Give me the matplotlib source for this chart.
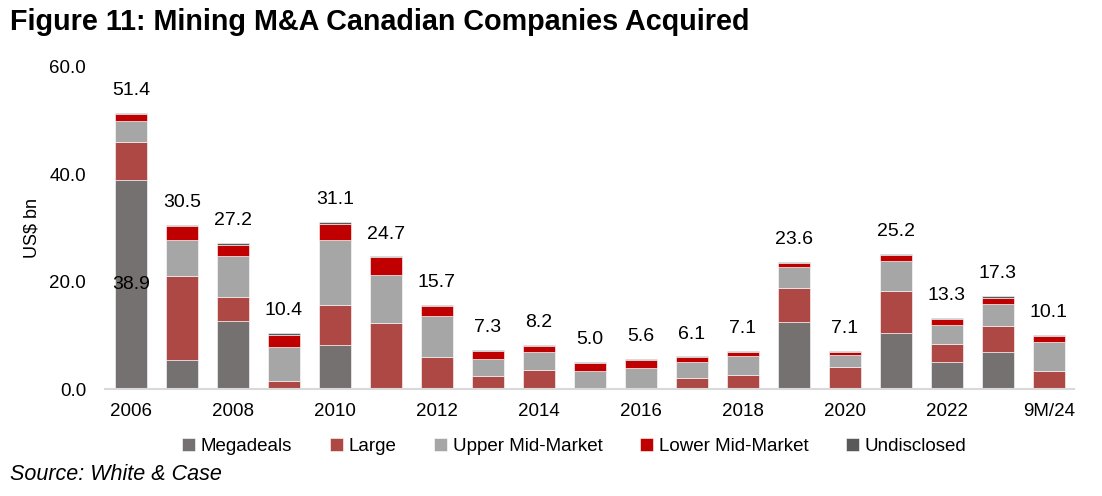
import matplotlib
matplotlib.use("Agg")
import matplotlib.pyplot as plt
import numpy as np

plt.rcParams["font.family"] = ["Liberation Sans", "DejaVu Sans"]

periods = ["2006", "2007", "2008", "2009", "2010", "2011", "2012", "2013", "2014", "2015",
           "2016", "2017", "2018", "2019", "2020", "2021", "2022", "2023", "9M/24"]
megadeals = [38.9, 5.4, 12.7, 0, 8.1, 0, 0, 0, 0, 0, 0, 0, 0, 12.5, 0, 10.4, 5.1, 6.9, 0]
large = [7.1, 15.6, 4.5, 1.5, 7.6, 12.2, 6.0, 2.5, 3.6, 0, 0, 2.1, 2.7, 6.3, 4.1, 7.9, 3.2, 4.9, 3.3]
upper_mid = [3.85, 6.7, 7.5, 6.3, 12.0, 9.1, 7.6, 3.15, 3.3, 3.3, 3.9, 3.0, 3.5, 3.9, 2.2, 5.6, 3.6, 4.1, 5.5]
lower_mid = [1.3, 2.7, 2.1, 2.3, 3.0, 3.2, 1.8, 1.45, 1.1, 1.5, 1.5, 0.8, 0.7, 0.7, 0.6, 1.1, 1.2, 1.1, 1.0]
undisclosed = [0.25, 0.1, 0.4, 0.3, 0.4, 0.2, 0.3, 0.2, 0.2, 0.2, 0.2, 0.2, 0.2, 0.2, 0.2, 0.2, 0.2, 0.3, 0.3]
totals = [51.4, 30.5, 27.2, 10.4, 31.1, 24.7, 15.7, 7.3, 8.2, 5.0,
          5.6, 6.1, 7.1, 23.6, 7.1, 25.2, 13.3, 17.3, 10.1]

series = [
    ("Megadeals", megadeals, "#767171"),
    ("Large", large, "#ad4845"),
    ("Upper Mid-Market", upper_mid, "#a6a6a6"),
    ("Lower Mid-Market", lower_mid, "#c00000"),
    ("Undisclosed", undisclosed, "#595959"),
]

fig = plt.figure(figsize=(11.02, 4.96), dpi=100)
ax = fig.add_axes([0.0957, 0.2157, 0.8793, 0.650])

x = np.arange(len(periods))
bottom = np.zeros(len(periods))
for name, values, color in series:
    vals = np.array(values, dtype=float)
    ax.bar(x, vals, bottom=bottom, width=0.63, color=color, label=name,
           edgecolor="white", linewidth=0.4)
    bottom += vals

for xi, top, total in zip(x, bottom, totals):
    ax.annotate(f"{total:.1f}", (xi, top), xytext=(0, 16), textcoords="offset points",
                ha="center", va="center", fontsize=14)

# label inside the 2006 megadeals segment
ax.text(0, megadeals[0] / 2, f"{megadeals[0]:.1f}", ha="center", va="center", fontsize=14)

ax.set_xlim(-0.5, len(periods) - 0.5)
ax.set_ylim(0, 60)
ax.set_yticks([0, 20, 40, 60])
ax.set_yticklabels(["0.0", "20.0", "40.0", "60.0"])
ax.set_xticks(x[::2])
ax.set_xticklabels(periods[::2])
ax.tick_params(axis="both", length=0, labelsize=13.5)
ax.tick_params(axis="y", pad=14)
ax.tick_params(axis="x", pad=10)
for side in ["top", "right", "left"]:
    ax.spines[side].set_visible(False)
ax.spines["bottom"].set_color("#d9d9d9")
ax.spines["bottom"].set_linewidth(1.5)
ax.set_ylabel("US$ bn", fontsize=13, labelpad=6)

fig.legend(loc="center", bbox_to_anchor=(0.521, 0.099), ncol=5, frameon=False,
           fontsize=13.5, handlelength=0.7, handleheight=0.7, handletextpad=0.3,
           columnspacing=2.0)

fig.text(0.009, 0.955, "Figure 11: Mining M&A Canadian Companies Acquired",
         fontsize=20.7, fontweight="bold", va="center", ha="left")
fig.text(0.009, 0.044, "Source: White & Case", fontsize=15.5, style="italic",
         va="center", ha="left")

fig.savefig("out.png", dpi=100)
